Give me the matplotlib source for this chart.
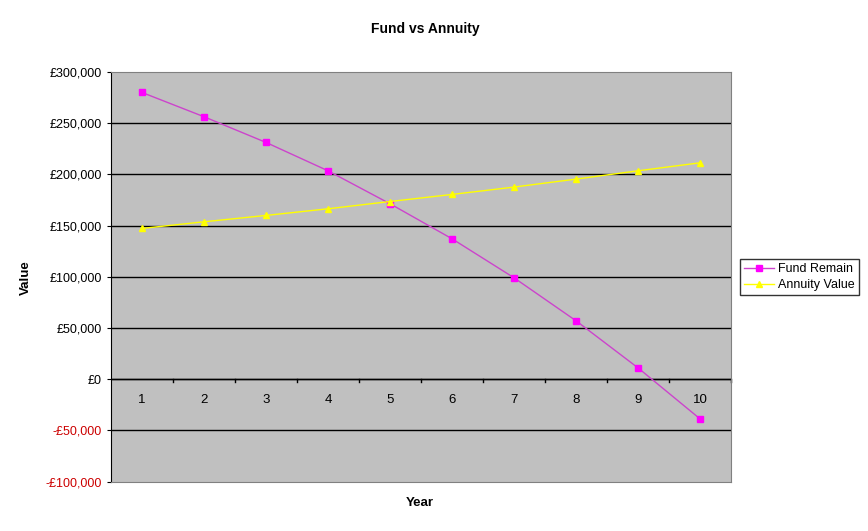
import matplotlib
matplotlib.use('agg')
import matplotlib.pyplot as plt
from matplotlib.ticker import FuncFormatter

plt.rcParams['font.family'] = ['Liberation Sans', 'DejaVu Sans']

years = [1, 2, 3, 4, 5, 6, 7, 8, 9, 10]
fund_remain = [280000, 256300, 231200, 203500, 171300, 137100, 99000, 57000, 11000, -38800]
annuity_value = [147200, 153700, 159900, 166400, 173500, 180400, 187600, 195400, 203500, 211300]
y_ticks = [-100000, -50000, 0, 50000, 100000, 150000, 200000, 250000, 300000]


def money(v, pos=None):
    #excel style currency labels, negatives with a leading minus
    if v < 0:
        return '-£{:,.0f}'.format(-v)
    return '£{:,.0f}'.format(v)


fig = plt.figure(figsize=(8.68, 5.31), dpi=100)
ax = fig.add_axes([0.1279, 0.0932, 0.7143, 0.7712])
ax.set_facecolor('#C0C0C0')

ax.set_xlim(0.5, 10.5)
ax.set_ylim(-100000, 300000)
ax.set_yticks(y_ticks)
ax.yaxis.set_major_formatter(FuncFormatter(money))
ax.tick_params(axis='y', labelsize=9, length=3, direction='out')
for lbl, v in zip(ax.get_yticklabels(), y_ticks):
    if v < 0:
        lbl.set_color('#CC0000')

#gridlines in black
for v in y_ticks[1:-1]:
    ax.axhline(v, color='black', lw=1, zorder=1)

#category axis crosses at zero, so draw it by hand
ax.set_xticks([])
ax.axhline(0, color='black', lw=1, zorder=1)
for b in [x + 0.5 for x in years]:
    ax.plot([b, b], [0, -3000], color='black', lw=1, zorder=1, clip_on=False)
for x in years:
    ax.text(x, -20000, str(x), ha='center', va='center', fontsize=9.5)

ax.spines['left'].set_color('black')
for s in ['top', 'right', 'bottom']:
    ax.spines[s].set_color('#808080')

ax.plot(years, fund_remain, color='#CC44CC', lw=1, marker='s', markersize=5,
        markerfacecolor='#FF00FF', markeredgecolor='#FF00FF', label='Fund Remain', zorder=3)
ax.plot(years, annuity_value, color='#FFFF00', lw=1, marker='^', markersize=5,
        markerfacecolor='#FFFF00', markeredgecolor='#FFFF00', label='Annuity Value', zorder=3)

fig.text(0.4896, 0.945, 'Fund vs Annuity', ha='center', va='center', fontsize=10, fontweight='bold')
fig.text(0.4838, 0.052, 'Year', ha='center', va='center', fontsize=9.5, fontweight='bold')
fig.text(0.030, 0.478, 'Value', ha='center', va='center', fontsize=9.5, fontweight='bold', rotation=90)

leg = fig.legend(loc='center left', bbox_to_anchor=(0.852, 0.478), fontsize=9,
                 frameon=True, fancybox=False, edgecolor='black', handlelength=2.4,
                 handletextpad=0.3, borderpad=0.35, labelspacing=0.3, borderaxespad=0)
leg.get_frame().set_linewidth(1)

fig.savefig('out.png', dpi=100)
